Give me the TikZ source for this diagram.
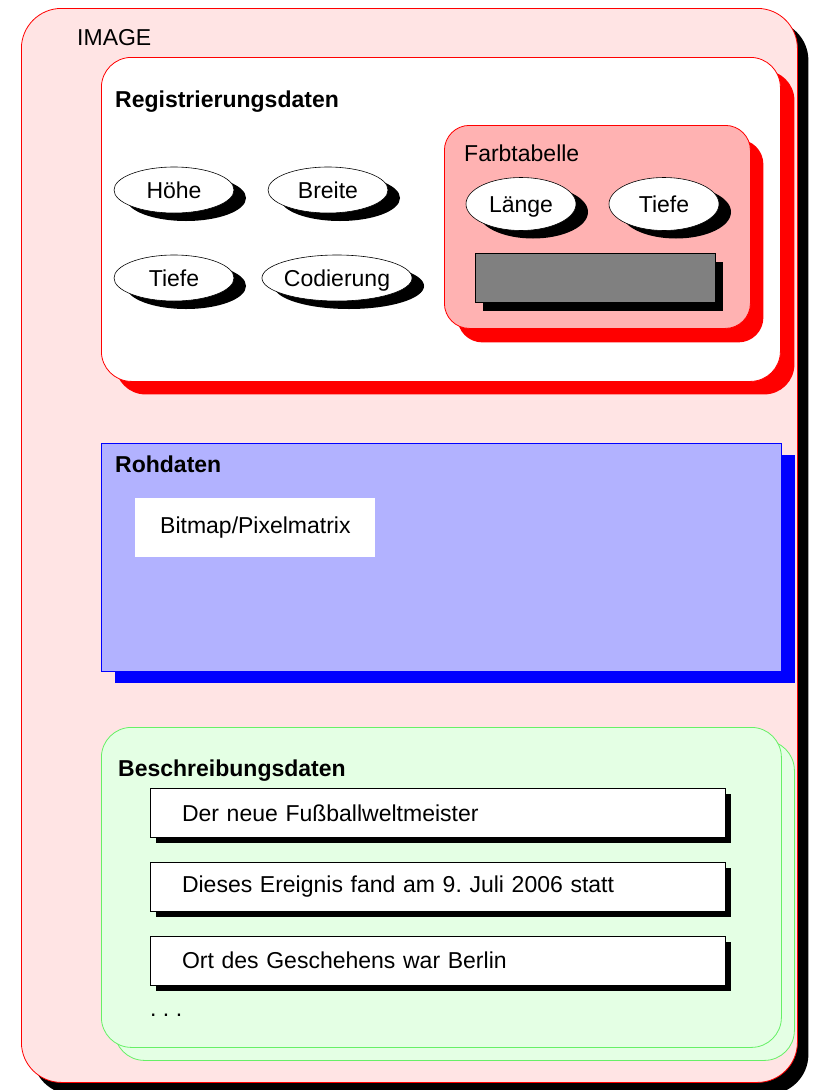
\documentclass[tikz,border=0pt]{standalone}
\usepackage{fontspec}
\setmainfont{Liberation Sans}
\usetikzlibrary{shapes,positioning,shadows}
\frenchspacing

\definecolor{imgpink}{RGB}{255,228,228}
\definecolor{tabred}{RGB}{255,178,178}
\definecolor{rohblue}{RGB}{178,178,255}
\definecolor{beschgreen}{RGB}{228,255,228}
\definecolor{beschline}{RGB}{102,240,102}

\begin{document}
\begin{tikzpicture}[x=1pt,y=-1pt,font=\fontsize{23}{27}\selectfont,
    box/.style={anchor=north west,inner sep=0pt,line width=0.8pt},
    imgbox/.style={box,draw=red,fill=imgpink,rounded corners=40pt,
      drop shadow={opacity=1,fill=black,shadow xshift=11pt,shadow yshift=-12pt}},
    regbox/.style={box,draw=red,fill=white,rounded corners=30pt,
      drop shadow={opacity=1,fill=red,shadow xshift=14pt,shadow yshift=-13pt}},
    tabbox/.style={box,draw=red,fill=tabred,rounded corners=25pt,
      drop shadow={opacity=1,fill=red,shadow xshift=13pt,shadow yshift=-14pt}},
    rohbox/.style={box,draw=blue,fill=rohblue,
      drop shadow={opacity=1,fill=blue,shadow xshift=14pt,shadow yshift=-12pt}},
    beschbox/.style={box,draw=beschline,fill=beschgreen,rounded corners=30pt,
      copy shadow={shadow xshift=13pt,shadow yshift=-13pt}},
    attr/.style={ellipse,draw=black,fill=white,inner sep=0pt,line width=0.6pt,
      minimum height=46pt,text height=16pt,text depth=0pt,
      drop shadow={opacity=1,fill=black,shadow xshift=12pt,shadow yshift=-8pt}},
    descbox/.style={box,anchor=north,draw=black,fill=white,minimum height=49pt,
      text width=511pt,inner xsep=32pt,align=left,
      drop shadow={opacity=1,fill=black,shadow xshift=6pt,shadow yshift=-6pt}},
    plain/.style={anchor=base west,inner xsep=0pt},
    title/.style={plain,font=\fontsize{23}{27}\selectfont\bfseries}]
  \useasboundingbox (0,0) rectangle (836,1090);

  \node[imgbox,minimum width=776pt,minimum height=1074pt] (image) at (21,8) {};
  \node[plain] (imagelabel) at (77,45) {IMAGE};

  \node[regbox,minimum width=679pt,minimum height=324pt] (reg) at (101,57) {};
  \node[title] (regtitle) at (115,107) {Registrierungsdaten};
  \node[attr,minimum width=120pt] (hoehe) at (174,190) {Höhe};
  \node[attr,minimum width=120pt] (breite) at (328,190) {Breite};
  \node[attr,minimum width=120pt] (tiefe) at (174,278) {Tiefe};
  \node[attr,minimum width=137pt] (codierung) at (337,278) {Codierung};

  \node[tabbox,minimum width=306pt,minimum height=203pt] (farb) at (444,125) {};
  \node[plain] (farbtitle) at (464,161) {Farbtabelle};
  \node[attr,minimum width=110pt,minimum height=53pt] (laenge) at (521,204) {Länge};
  \node[attr,minimum width=110pt,minimum height=53pt] (tabtiefe) at (664,204) {Tiefe};
  \node[box,draw=black,fill=gray,minimum width=240pt,minimum height=49pt,
    drop shadow={opacity=1,fill=black,shadow xshift=8pt,shadow yshift=-9pt}] (farbwerte) at (475,253) {};

  \node[rohbox,minimum width=680pt,minimum height=228pt] (roh) at (101,443) {};
  \node[title] (rohtitle) at (115,472) {Rohdaten};
  \node[box,fill=white,minimum width=240pt,minimum height=59pt] (bitmap) at (135,498) {};
  \node (bitmaptext) at (bitmap.center) {Bitmap/Pixelmatrix};

  \node[beschbox,minimum width=680pt,minimum height=320pt] (besch) at (101,727) {};
  \node[title] (beschtitle) at (118,776) {Beschreibungsdaten};
  \node[descbox] (d1) at (437.5,788) {Der neue Fußballweltmeister};
  \node[descbox,below=24pt of d1] (d2) {Dieses Ereignis fand am 9. Juli 2006 statt};
  \node[descbox,below=24pt of d2] (d3) {Ort des Geschehens war Berlin};
  \node[plain] (dots) at (150,1016) {. . .};
\end{tikzpicture}
\end{document}
